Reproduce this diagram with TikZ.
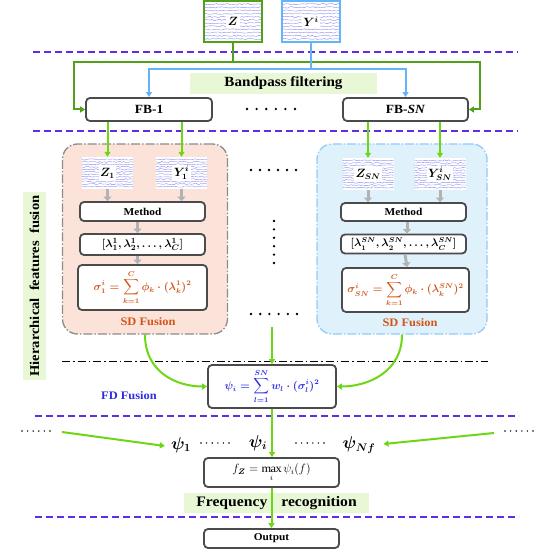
\documentclass[tikz,border=0pt]{standalone}
\usepackage{amsmath,bm}
\usepackage{fontspec}
\setmainfont{Liberation Serif}[FakeStretch=1.08]
\usetikzlibrary{positioning,calc,arrows.meta,decorations.pathmorphing}

\definecolor{stagepurple}{RGB}{95,45,230}
\definecolor{zgreen}{RGB}{80,160,25}
\definecolor{yblue}{RGB}{100,180,250}
\definecolor{flowgreen}{RGB}{110,215,20}
\definecolor{boxgray}{RGB}{75,75,75}
\definecolor{pinkfill}{RGB}{252,227,218}
\definecolor{bluefill}{RGB}{223,242,252}
\definecolor{labelfill}{RGB}{232,248,215}
\definecolor{sdorange}{RGB}{210,85,25}
\definecolor{fdblue}{RGB}{45,45,230}
\definecolor{wavecol}{RGB}{130,130,238}

\newcommand{\fsz}[1]{\fontsize{#1}{#1}\selectfont}
\newcommand{\siglab}[1]{{\fsz{12}\setlength{\fboxsep}{1.5pt}\colorbox{white}{\boldmath$#1$}}}
\newcommand{\bmath}[1]{{\boldmath$#1$}}

\begin{document}
\begin{tikzpicture}[x=1pt, y=-1pt,
    every node/.style={align=center, inner sep=0pt, font=\bfseries},
    stageline/.style={stagepurple, line width=1.8pt, dash pattern=on 7pt off 4pt},
    flowbox/.style={draw=boxgray, line width=1.8pt, rounded corners=4pt, fill=white},
    panelbox/.style={rounded corners=15pt, line width=1.3pt, dash pattern=on 9pt off 2pt on 1.5pt off 2pt},
    bandlabel/.style={fill=labelfill, font={\bfseries\fsz{14}}},
    sigbox/.style={minimum width=51pt, minimum height=32pt, fill=white, path picture={
        \foreach \k in {1,...,12}
          \draw[wavecol, line width=0.35pt, decorate, decoration={random steps, segment length=2pt, amplitude=0.7pt}]
            ($(path picture bounding box.north west)!\k/13!(path picture bounding box.south west)$) --
            ($(path picture bounding box.north east)!\k/13!(path picture bounding box.south east)$);}},
    zline/.style={zgreen, line width=2pt, -{Triangle[width=6pt,length=5pt]}},
    yline/.style={yblue, line width=2pt, -{Triangle[width=6pt,length=5pt]}},
    greenarrow/.style={flowgreen, line width=2pt, -{Triangle[width=6pt,length=5pt]}},
    grayarrow/.style={black!30, line width=3pt, -{Triangle[width=8pt,length=4.5pt]}}
]
    \useasboundingbox (0,0) rectangle (554,553);

    % stage separators
    \draw[stageline] (33,52) -- (518,52);
    \draw[stageline] (33,131) -- (518,131);
    \draw[stageline] (35,416) -- (519,416);
    \draw[stageline] (35,517) -- (519,517);

    % inputs
    \node[sigbox, draw=zgreen, line width=2.2pt, minimum width=58pt, minimum height=41pt] (Z) at (233,21.5) {\siglab{\bm{Z}}};
    \node[sigbox, draw=yblue, line width=2.2pt, minimum width=58pt, minimum height=41pt] (Y) at (311,21.5) {\siglab{Y^{i}}};

    % filter bank
    \node[bandlabel, minimum width=187pt, minimum height=21pt] (band) at (283.5,83.5) {Bandpass filtering};
    \node[flowbox, minimum width=126pt, minimum height=23pt, font={\bfseries\fsz{12.5}}] (fb1) at (149,109.5) {FB-1};
    \node[flowbox, minimum width=125pt, minimum height=23pt, font={\bfseries\fsz{12.5}}] (fbN) at (405.5,109.5) {FB-\textit{SN}};
    \foreach \i in {0,...,5} \fill (247+\i*9.6,109) circle (1.3pt);

    \draw[zline] (Z.south) -- ++(0,19) -| ([xshift=-11pt]fb1.west) -- (fb1.west);
    \draw[zline] (Z.south) -- ++(0,19) -| ([xshift=11pt]fbN.east) -- (fbN.east);
    \draw[yline] (Y.south) -- ++(0,26) -| (fb1.north);
    \draw[yline] (Y.south) -- ++(0,26) -| (fbN.north);

    % sub-band panels
    \node[panelbox, fill=pinkfill, draw=black!45, minimum width=165pt, minimum height=190pt] (panelL) at (145,239) {};
    \node[panelbox, fill=bluefill, draw=yblue!70, minimum width=170pt, minimum height=190pt] (panelR) at (402,239) {};

    \node[sigbox] (Z1) at (107.5,173) {\siglab{Z_{1}}};
    \node[sigbox] (Y1) at (181.5,173) {\siglab{Y_{1}^{i}}};
    \node[flowbox, minimum width=125pt, minimum height=19pt, font={\bfseries\fsz{10.5}}] (methodL) at (142.5,211.5) {Method};
    \node[flowbox, minimum width=125pt, minimum height=21pt, font={\fsz{11}}] (lamL) at (142.5,244.5) {\bmath{\lbrack\lambda_{1}^{1},\lambda_{2}^{1},\ldots,\lambda_{C}^{1}\rbrack}};
    \node[flowbox, minimum width=129pt, minimum height=45pt, font={\fsz{10.5}}, text=sdorange] (sigL) at (142.5,287.5) {\bmath{\displaystyle\sigma_{1}^{i}=\sum_{k=1}^{C}\phi_{k}\cdot(\lambda_{k}^{1})^{2}}};
    \node[text=sdorange, font={\bfseries\fsz{11.5}}] (sdL) at (148,322) {SD Fusion};

    \node[sigbox] (ZN) at (368,174) {\siglab{Z_{SN}}};
    \node[sigbox] (YN) at (440,174) {\siglab{Y_{SN}^{i}}};
    \node[flowbox, minimum width=125pt, minimum height=18pt, font={\bfseries\fsz{10.5}}] (methodR) at (403.5,212) {Method};
    \node[flowbox, minimum width=125pt, minimum height=19pt, font={\fsz{10.5}}] (lamR) at (403.5,244) {\bmath{\lbrack\lambda_{1}^{SN},\lambda_{2}^{SN},\ldots,\lambda_{C}^{SN}\rbrack}};
    \node[flowbox, minimum width=127pt, minimum height=44pt, font={\fsz{10.5}}, text=sdorange] (sigR) at (405.5,290) {\bmath{\displaystyle\sigma_{SN}^{i}=\sum_{k=1}^{C}\phi_{k}\cdot(\lambda_{k}^{SN})^{2}}};
    \node[text=sdorange, font={\bfseries\fsz{11.5}}] (sdR) at (410,323) {SD Fusion};

    \draw[greenarrow] (fb1.south -| Z1.north) -- (Z1.north);
    \draw[greenarrow] (fb1.south -| Y1.north) -- (Y1.north);
    \draw[greenarrow] (fbN.south -| ZN.north) -- (ZN.north);
    \draw[greenarrow] (fbN.south -| YN.north) -- (YN.north);

    \draw[grayarrow] (Z1.south) -- (Z1.south |- methodL.north);
    \draw[grayarrow] (Y1.south) -- (Y1.south |- methodL.north);
    \draw[grayarrow] ([xshift=-5pt]methodL.south) -- ([xshift=-5pt]lamL.north);
    \draw[grayarrow] ([xshift=-5pt]lamL.south) -- ([xshift=-5pt]sigL.north);
    \draw[grayarrow] (ZN.south) -- (ZN.south |- methodR.north);
    \draw[grayarrow] (YN.south) -- (YN.south |- methodR.north);
    \draw[grayarrow] ([xshift=3.5pt]methodR.south) -- ([xshift=3.5pt]lamR.north);
    \draw[grayarrow] ([xshift=1.5pt]lamR.south) -- ([xshift=1.5pt]sigR.north);

    % omitted sub-bands
    \foreach \i in {0,...,5} {
        \fill (251+\i*9,170) circle (1.3pt);
        \fill (274,221+\i*8.4) circle (1.3pt);
        \fill (251+\i*9.2,314) circle (1.3pt);
    }

    \node[rotate=90, fill=labelfill, minimum width=188pt, minimum height=23pt, font={\bfseries\fsz{13.5}}] (hier) at (34.5,286) {Hierarchical\ \ features\ \ fusion};

    % frequency-domain fusion
    \draw[black, line width=1pt, dash pattern=on 8pt off 3pt on 1.5pt off 3pt] (62,361) -- (488,361);
    \node[flowbox, minimum width=128pt, minimum height=43pt, font={\fsz{10.5}}, text=fdblue] (psi) at (272,386.5) {\bmath{\displaystyle\psi_{i}=\sum_{l=1}^{SN}w_{l}\cdot(\sigma_{l}^{i})^{2}}};
    \node[text=fdblue, font={\bfseries\fsz{11.5}}] (fd) at (129,396) {FD Fusion};

    \draw[greenarrow] (panelL.south) .. controls +(0,38) and +(-30,0) .. (psi.west);
    \draw[greenarrow] (panelR.south) .. controls +(0,38) and +(30,0) .. (psi.east);
    \draw[greenarrow] ([yshift=37pt]psi.north) -- (psi.north);

    % frequency recognition
    \node[font={\fsz{16}}] (psi1) at (181,445) {\bmath{\psi_{1}}};
    \node[font={\fsz{16}}] (psii) at (258,443) {\bmath{\psi_{i}}};
    \node[font={\fsz{16}}] (psiN) at (359,445) {\bmath{\psi_{Nf}}};
    \foreach \i in {0,...,5} {
        \fill (22+\i*5.6,431) circle (0.8pt);
        \fill (201+\i*5.6,443) circle (0.8pt);
        \fill (296+\i*5.6,443) circle (0.8pt);
        \fill (505+\i*5.6,431) circle (0.8pt);
    }
    \coordinate (leftin) at (62,432);
    \coordinate (rightin) at (494,433);
    \draw[greenarrow] (leftin) -- ([xshift=-6pt,yshift=-1pt]psi1.west);
    \draw[greenarrow] (rightin) -- ([xshift=8pt,yshift=1pt]psiN.east);

    \node[flowbox, minimum width=135pt, minimum height=29pt, font={\fsz{11.5}}] (fz) at (271.5,472.5) {$f_{\bm{Z}}=\max\limits_{i}\psi_{i}(f)$};
    \draw[greenarrow] (psi.south) -- (psi.south |- fz.north);
    \node[bandlabel, minimum width=185pt, minimum height=20pt, font={\bfseries\fsz{14.5}}] (freq) at (276.5,503) {Frequency\hspace{14pt}recognition};
    \node[flowbox, minimum width=135pt, minimum height=19pt, font={\bfseries\fsz{10.5}}] (out) at (271.5,538.5) {Output};
    \draw[greenarrow] (fz.south) -- (out.north);

\end{tikzpicture}
\end{document}
